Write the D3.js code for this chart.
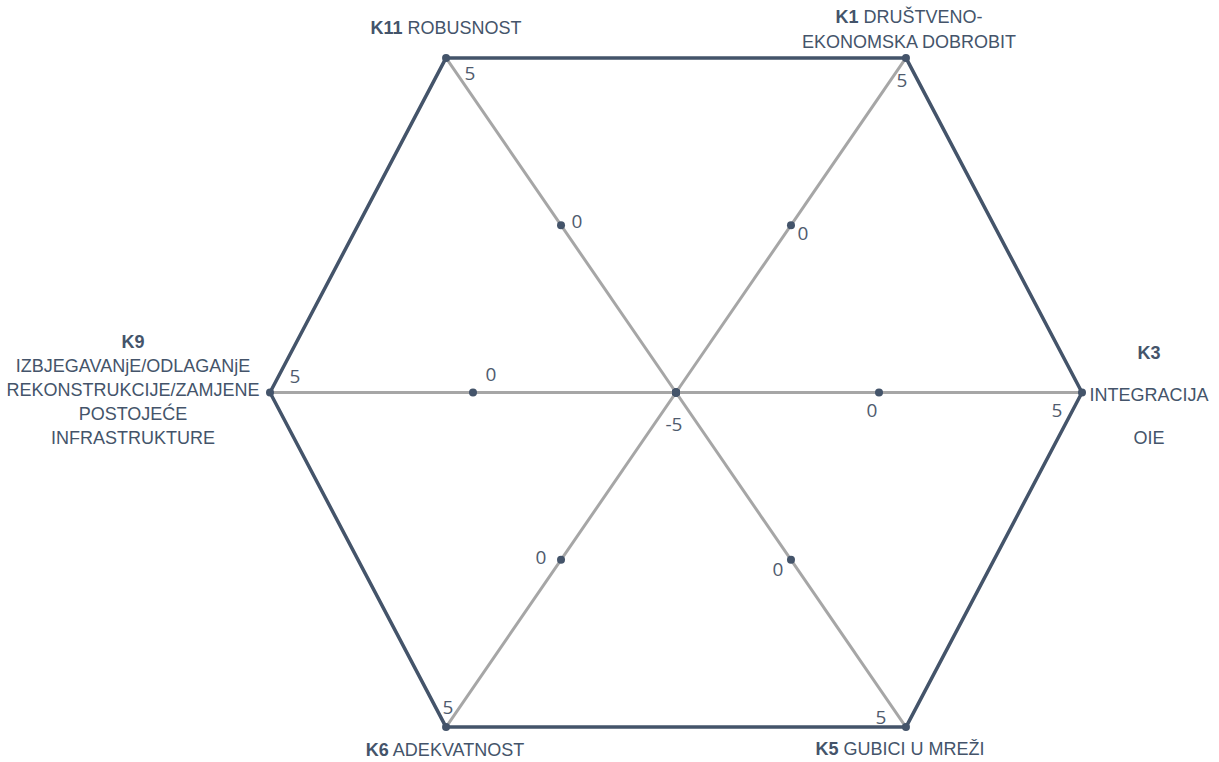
<!DOCTYPE html>
<html>
<head>
<meta charset="utf-8">
<script src="https://cdn.jsdelivr.net/npm/d3@7"></script>
<style>
  body { margin: 0; background: #fff; }
</style>
</head>
<body>
<div id="chart"></div>
<script>
const codes = ["K1", "K3", "K5", "K6", "K9", "K11"];
const names = [
  "DRUŠTVENO-\nEKONOMSKA DOBROBIT",
  "\nINTEGRACIJA\nOIE",
  "GUBICI U MREŽI",
  "ADEKVATNOST",
  "\nIZBJEGAVANjE/ODLAGANjE\nREKONSTRUKCIJE/ZAMJENE\nPOSTOJEĆE\nINFRASTRUKTURE",
  "ROBUSNOST"
];
const maxValues = [5, 5, 5, 5, 5, 5];
const minValues = [-5, -5, -5, -5, -5, -5];
const scores = [0, 0, 0, 0, 0, 0];

// axis directions (degrees, counter-clockwise from the right) and label placement
const angles = [55.5, 0, -55.5, -124.5, 180, 124.5];
const nameLayout = [
  {dx: 3, dy: -35, lh: 25},
  {dx: 67, dy: -34, lh: 42.5},
  {dx: -6, dy: 28, lh: 24},
  {dx: -1, dy: 29, lh: 24},
  {dx: -137, dy: -45, lh: 24},
  {dx: 0, dy: -24, lh: 24}
];
const maxLabelOff = [[-4, 29.5], [-25, 24.5], [-25, -3], [2, -13], [25, -9.5], [24, 22]];
const scoreLabelOff = [[12, 15], [-7, 24], [-13, 16.5], [-20, 4.5], [18, -11.5], [16, 3]];

const width = 1219, height = 762;
const cx = 676, cy = 392.5, radius = 406;
const dark = "#44546A", grey = "#A6A6A6", numColor = "#4f5b6e";

const svg = d3.select("#chart").append("svg")
  .attr("width", width)
  .attr("height", height);

const r = d3.scaleLinear().domain([-5, 5]).range([0, radius]);
const rad = d => d * Math.PI / 180;
const px = (i, v) => cx + r(v) * Math.cos(rad(angles[i]));
const py = (i, v) => cy - r(v) * Math.sin(rad(angles[i]));

// spokes
svg.append("g").selectAll("line")
  .data(codes)
  .join("line")
    .attr("x1", (d, i) => px(i, minValues[i]))
    .attr("y1", (d, i) => py(i, minValues[i]))
    .attr("x2", (d, i) => px(i, maxValues[i]))
    .attr("y2", (d, i) => py(i, maxValues[i]))
    .attr("stroke", grey)
    .attr("stroke-width", 3);

// outer series
const outer = d3.line().x((d, i) => px(i, d)).y((d, i) => py(i, d)).curve(d3.curveLinearClosed);
svg.append("path")
  .attr("d", outer(maxValues))
  .attr("fill", "none")
  .attr("stroke", dark)
  .attr("stroke-width", 3.5)
  .attr("stroke-linejoin", "round");

const dots = (vals) => svg.append("g").selectAll("circle")
  .data(vals)
  .join("circle")
    .attr("cx", (d, i) => px(i, d))
    .attr("cy", (d, i) => py(i, d))
    .attr("r", 4)
    .attr("fill", dark);

dots(maxValues);
dots(minValues);
dots(scores);

const numFont = "'Open Sans', 'Noto Sans', sans-serif";

const numLabels = (vals, off) => svg.append("g").selectAll("text")
  .data(vals)
  .join("text")
    .attr("x", (d, i) => px(i, d) + off[i][0])
    .attr("y", (d, i) => py(i, d) + off[i][1])
    .attr("text-anchor", "middle")
    .style("font-family", numFont)
    .style("font-size", "19px")
    .attr("fill", numColor)
    .text(d => d);

numLabels(maxValues, maxLabelOff);
numLabels(scores, scoreLabelOff);

svg.append("text")
  .attr("x", px(0, minValues[0]) - 2)
  .attr("y", py(0, minValues[0]) + 38)
  .attr("text-anchor", "middle")
  .style("font-family", numFont)
  .style("font-size", "19px")
  .attr("fill", numColor)
  .text(minValues[0]);

// category labels
const labels = svg.append("g")
  .style("font-family", "'Liberation Sans Narrow', 'Arial Narrow', 'Liberation Sans', sans-serif")
  .style("font-size", "18px")
  .attr("fill", dark);

codes.forEach((code, i) => {
  const lay = nameLayout[i];
  const lines = names[i].split("\n");
  const t = labels.append("text")
    .attr("x", px(i, maxValues[i]) + lay.dx)
    .attr("y", py(i, maxValues[i]) + lay.dy)
    .attr("text-anchor", "middle");
  lines.forEach((line, j) => {
    const ts = t.append("tspan")
      .attr("x", px(i, maxValues[i]) + lay.dx)
      .attr("dy", j === 0 ? 0 : lay.lh);
    if (j === 0) {
      ts.append("tspan").style("font-weight", "bold").text(code);
      if (line) ts.append("tspan").text(" " + line);
    } else {
      ts.text(line);
    }
  });
});
</script>
</body>
</html>
